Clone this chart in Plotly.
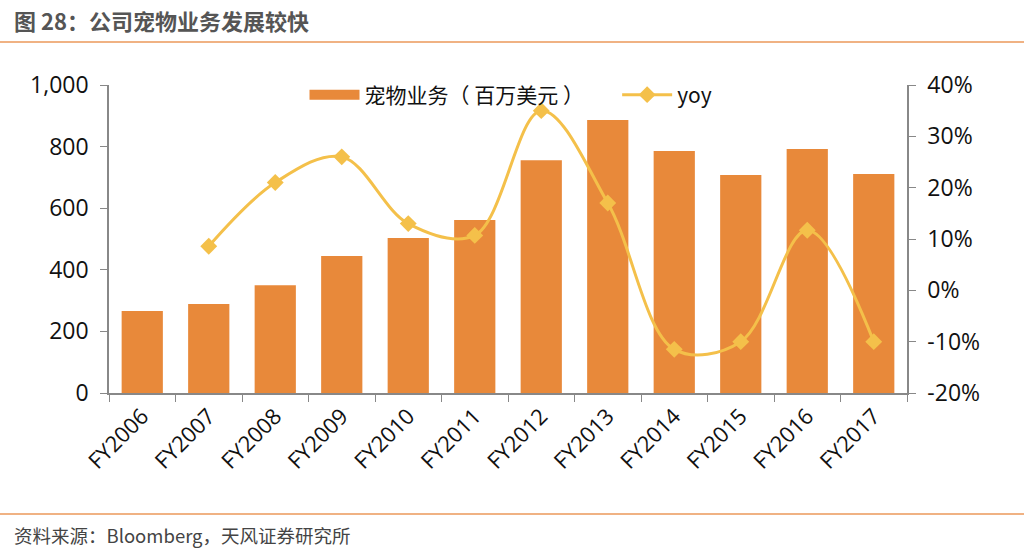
import plotly.graph_objects as go

categories = ["FY2006", "FY2007", "FY2008", "FY2009", "FY2010", "FY2011",
              "FY2012", "FY2013", "FY2014", "FY2015", "FY2016", "FY2017"]
pet_revenue = [266, 289, 350, 445, 503, 562, 756, 886, 786, 708, 792, 711]
yoy = [None, 0.086, 0.21, 0.26, 0.13, 0.107, 0.35, 0.17, -0.115, -0.10, 0.117, -0.10]
y2_ticks = [-0.2, -0.1, 0, 0.1, 0.2, 0.3, 0.4]
y2_labels = ["-20%", "-10%", "0%", "10%", "20%", "30%", "40%"]

FONT = "Noto Sans CJK SC, Noto Sans, sans-serif"
NUMFONT = "Open Sans, Noto Sans, sans-serif"
BAR_C = "#E8893A"
LINE_C = "#F4C04A"

fig = go.Figure()
fig.add_trace(go.Bar(x=categories, y=pet_revenue, name="宠物业务（ 百万美元 ）",
                     marker=dict(color=BAR_C, line=dict(width=0)), yaxis="y", showlegend=False))
# legend proxy for the bar series (wide rectangle swatch)
fig.add_trace(go.Scatter(x=[None], y=[None], name="宠物业务（ 百万美元 ）&nbsp;&nbsp;&nbsp;&nbsp;&nbsp;&nbsp;", mode="lines",
                         line=dict(color=BAR_C, width=14), yaxis="y"))
fig.add_trace(go.Scatter(x=categories, y=yoy, name="yoy", yaxis="y2",
                         mode="lines+markers", line=dict(color=LINE_C, width=3, shape="spline", smoothing=1.0),
                         marker=dict(symbol="diamond", size=13, color=LINE_C)))

fig.update_layout(
    width=1024, height=558,
    paper_bgcolor="white", plot_bgcolor="white",
    margin=dict(l=109, r=117, t=85, b=165, autoexpand=False),
    bargap=0.38,
    font=dict(family=FONT, color="#111", size=20),
    showlegend=True,
    legend=dict(orientation="h", x=0.245, y=0.9675, xanchor="left", yanchor="middle",
                font=dict(size=21, family=FONT, color="#111"), bgcolor="rgba(0,0,0,0)",
                itemwidth=50, tracegroupgap=0),
    xaxis=dict(range=[-0.5, 11.5], showline=True, linecolor="#888", linewidth=1.5, ticks="outside",
               tickson="boundaries", ticklen=7, tickcolor="#888", tickangle=-45,
               tickfont=dict(size=22, family=NUMFONT), showgrid=False),
    yaxis=dict(range=[0, 1000], dtick=200, tickformat=",d", showline=True, linecolor="#888",
               linewidth=1.5, ticks="outside", ticklen=7, tickcolor="#888", ticklabelstandoff=7,
               showgrid=False, zeroline=False, tickfont=dict(size=23, family=NUMFONT)),
    yaxis2=dict(range=[-0.2, 0.4], tickvals=y2_ticks, ticktext=y2_labels, overlaying="y", side="right",
                showline=True, linecolor="#888", linewidth=1.5, ticks="outside", ticklen=7,
                tickcolor="#888", ticklabelstandoff=7, showgrid=False, zeroline=False,
                tickfont=dict(size=23, family=NUMFONT)),
)

fig.add_annotation(text="<b>图 28：公司宠物业务发展较快</b>", xref="paper", yref="paper",
                   x=-0.121, y=1.211, xanchor="left", yanchor="middle", showarrow=False,
                   font=dict(size=22, color="#555", family=FONT))
fig.add_annotation(text="资料来源：Bloomberg，天风证券研究所", xref="paper", yref="paper",
                   x=-0.121, y=-0.461, xanchor="left", yanchor="middle", showarrow=False,
                   font=dict(size=18.5, color="#444", family=FONT))
for yy in (1.1396, -0.393):
    fig.add_shape(type="line", xref="paper", yref="paper", x0=-0.137, x1=1.147, y0=yy, y1=yy,
                  line=dict(color="#F0B283", width=2))

fig.write_html("out.html", config={"displayModeBar": False},
               post_script="document.body.style.margin='0';document.body.style.overflow='hidden';")
